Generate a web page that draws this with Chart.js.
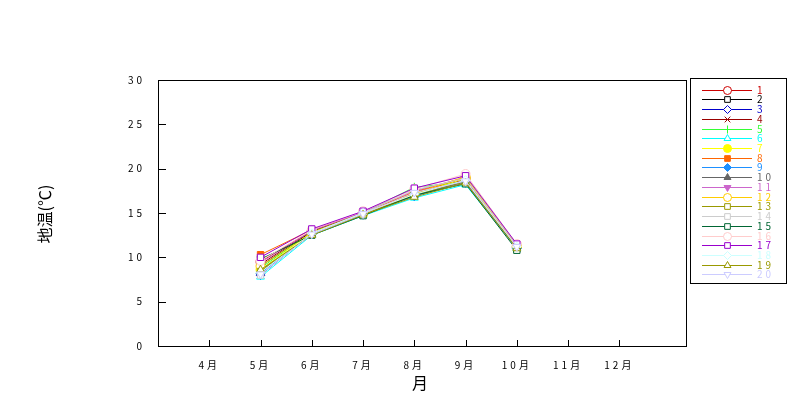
<!DOCTYPE html>
<html>
<head>
<meta charset="utf-8">
<script src="https://cdn.jsdelivr.net/npm/chart.js@4.4.1/dist/chart.umd.min.js"></script>
<style>
    html, body { margin: 0; padding: 0; background: #fff; }
</style>
</head>
<body>
<canvas id="soil-chart" width="793" height="400"></canvas>
<script>
// Data
const months = [5, 6, 7, 8, 9, 10];
const monthTicks = [4, 5, 6, 7, 8, 9, 10, 11, 12];
const monthLabels = ['4月', '5月', '6月', '7月', '8月', '9月', '10月', '11月', '12月'];
const tempTicks = [0, 5, 10, 15, 20, 25, 30];
const tempLabels = ['0', '5', '10', '15', '20', '25', '30'];
const seriesNames = ['1', '2', '3', '4', '5', '6', '7', '8', '9', '10',
    '11', '12', '13', '14', '15', '16', '17', '18', '19', '20'];

const soil1  = [9.5, 13.0, 15.0, 17.3, 18.9, 11.2];
const soil2  = [9.0, 12.9, 14.8, 17.0, 18.6, 11.0];
const soil3  = [8.0, 12.7, 15.1, 16.9, 18.7, 11.1];
const soil4  = [9.2, 13.0, 14.9, 17.2, 18.8, 11.1];
const soil5  = [8.8, 12.8, 15.0, 17.9, 18.5, 11.3];
const soil6  = [7.8, 12.5, 14.7, 16.7, 18.2, 11.0];
const soil7  = [8.6, 12.8, 14.9, 17.1, 18.9, 11.2];
const soil8  = [10.3, 13.1, 15.0, 17.4, 19.0, 11.3];
const soil9  = [8.2, 12.6, 14.8, 16.9, 18.4, 11.0];
const soil10 = [8.5, 12.6, 14.9, 17.0, 18.5, 11.1];
const soil11 = [9.4, 13.0, 15.1, 17.5, 19.0, 11.4];
const soil12 = [9.0, 12.8, 14.9, 17.2, 19.1, 11.3];
const soil13 = [8.4, 12.6, 14.8, 17.0, 18.6, 11.1];
const soil14 = [8.0, 12.7, 15.0, 17.6, 18.9, 11.4];
const soil15 = [9.8, 12.5, 14.7, 17.0, 18.3, 10.8];
const soil16 = [9.6, 13.1, 15.2, 17.7, 19.4, 11.5];
const soil17 = [10.0, 13.2, 15.2, 17.8, 19.2, 11.5];
const soil18 = [8.3, 12.7, 15.0, 17.1, 18.7, 11.2];
const soil19 = [8.6, 12.5, 14.8, 16.8, 18.4, 11.0];
const soil20 = [8.1, 12.6, 14.9, 17.3, 18.6, 11.2];

const allSoil = [soil1, soil2, soil3, soil4, soil5, soil6, soil7, soil8, soil9, soil10,
    soil11, soil12, soil13, soil14, soil15, soil16, soil17, soil18, soil19, soil20];

// look of each series: colour, marker, filled?, rotation
const looks = [
    ['#cc0000', 'circle', false, 0],
    ['#000000', 'rect', false, 0],
    ['#0000cc', 'rectRot', false, 0],
    ['#990000', 'crossRot', false, 0],
    ['#33ff33', 'line', false, 90],
    ['#00ffff', 'triangle', false, 0],
    ['#ffff00', 'circle', true, 0],
    ['#ff6600', 'rect', true, 0],
    ['#1e90ff', 'rectRot', true, 0],
    ['#666666', 'triangle', true, 0],
    ['#cc66cc', 'triangle', true, 180],
    ['#ffcc00', 'circle', false, 0],
    ['#999900', 'rect', false, 0],
    ['#cccccc', 'rect', false, 0],
    ['#006633', 'rect', false, 0],
    ['#ffcccc', 'circle', false, 0],
    ['#9900cc', 'rect', false, 0],
    ['#ccffff', 'rectRot', false, 0],
    ['#999900', 'triangle', false, 0],
    ['#ccccff', 'triangle', false, 180]
];

const FONT = "'Noto Sans CJK JP', 'DejaVu Sans', sans-serif";

const datasets = allSoil.map((vals, i) => ({
    label: seriesNames[i],
    data: vals.map((v, j) => ({ x: months[j], y: v })),
    borderColor: looks[i][0],
    backgroundColor: looks[i][2] ? looks[i][0] : '#ffffff',
    pointStyle: looks[i][1],
    pointRotation: looks[i][3],
    pointRadius: 4.5,
    pointBorderWidth: 1,
    borderWidth: 1,
    tension: 0,
    order: allSoil.length - i   // later series drawn on top
}));

// frame, inner tick marks, axis titles and the legend box
const decorations = {
    id: 'decorations',
    beforeDraw(chart) {
        chart.ctx.letterSpacing = '3px';
    },
    beforeDatasetsDraw(chart) {
        const ctx = chart.ctx;
        const a = chart.chartArea;
        const x = chart.scales.x, y = chart.scales.y;
        ctx.save();
        ctx.strokeStyle = '#000';
        ctx.lineWidth = 1;
        ctx.strokeRect(Math.round(a.left) + 0.5, Math.round(a.top) + 0.5,
            Math.round(a.right - a.left), Math.round(a.bottom - a.top));
        ctx.beginPath();
        monthTicks.forEach(m => {
            const px = Math.round(x.getPixelForValue(m)) + 0.5;
            ctx.moveTo(px, a.bottom);
            ctx.lineTo(px, a.bottom - 6);
        });
        tempTicks.forEach(t => {
            const py = Math.round(y.getPixelForValue(t)) + 0.5;
            ctx.moveTo(a.left, py);
            ctx.lineTo(a.left + 8, py);
        });
        ctx.stroke();
        ctx.restore();
    },
    afterDraw(chart) {
        const ctx = chart.ctx;
        const a = chart.chartArea;
        ctx.save();
        ctx.letterSpacing = '0px';
        ctx.fillStyle = '#000';
        ctx.textAlign = 'center';
        ctx.textBaseline = 'middle';
        ctx.font = '16px ' + FONT;
        ctx.fillText('月', (a.left + a.right) / 2 - 2, 383);
        ctx.translate(45, 214);
        ctx.rotate(-Math.PI / 2);
        ctx.fillText('地温(℃)', 0, 0);
        ctx.restore();

        // legend
        ctx.save();
        ctx.strokeStyle = '#000';
        ctx.lineWidth = 1;
        ctx.strokeRect(690.5, 78.5, 96, 205);
        ctx.font = '10px ' + FONT;
        ctx.textAlign = 'left';
        ctx.textBaseline = 'middle';
        ctx.letterSpacing = '3px';
        datasets.forEach((ds, i) => {
            const ry = Math.round(89.7 + i * 9.72) + 0.5;
            ctx.strokeStyle = ds.borderColor;
            ctx.beginPath();
            ctx.moveTo(702, ry);
            ctx.lineTo(752, ry);
            ctx.stroke();
            ctx.fillStyle = ds.backgroundColor;
            Chart.helpers.drawPoint(ctx, {
                pointStyle: ds.pointStyle,
                rotation: ds.pointRotation,
                radius: 4,
                borderWidth: 1
            }, 727.5, ry);
            ctx.fillStyle = ds.borderColor;
            ctx.fillText(ds.label, 757, ry);
        });
        ctx.restore();
    }
};

new Chart(document.getElementById('soil-chart'), {
    type: 'line',
    data: { datasets: datasets },
    plugins: [decorations],
    options: {
        responsive: false,
        animation: false,
        devicePixelRatio: 1,
        layout: { padding: { top: 80, right: 107, left: 0, bottom: 0 } },
        plugins: { legend: { display: false }, tooltip: { enabled: false } },
        scales: {
            x: {
                type: 'linear',
                min: 3,
                max: 13.3,
                afterBuildTicks: s => { s.ticks = monthTicks.map(v => ({ value: v })); },
                afterFit: s => { s.height = 54; },
                grid: { display: false },
                border: { display: false },
                ticks: {
                    autoSkip: false,
                    maxRotation: 0,
                    padding: 5,
                    color: '#000',
                    font: { family: FONT, size: 10 },
                    callback: v => monthLabels[monthTicks.indexOf(v)]
                }
            },
            y: {
                min: 0,
                max: 30,
                afterBuildTicks: s => { s.ticks = tempTicks.map(v => ({ value: v })); },
                afterFit: s => { s.width = 158; },
                grid: { display: false },
                border: { display: false },
                ticks: {
                    padding: 5,
                    color: '#000',
                    font: { family: FONT, size: 10 },
                    callback: v => tempLabels[tempTicks.indexOf(v)]
                }
            }
        }
    }
});
</script>
</body>
</html>
